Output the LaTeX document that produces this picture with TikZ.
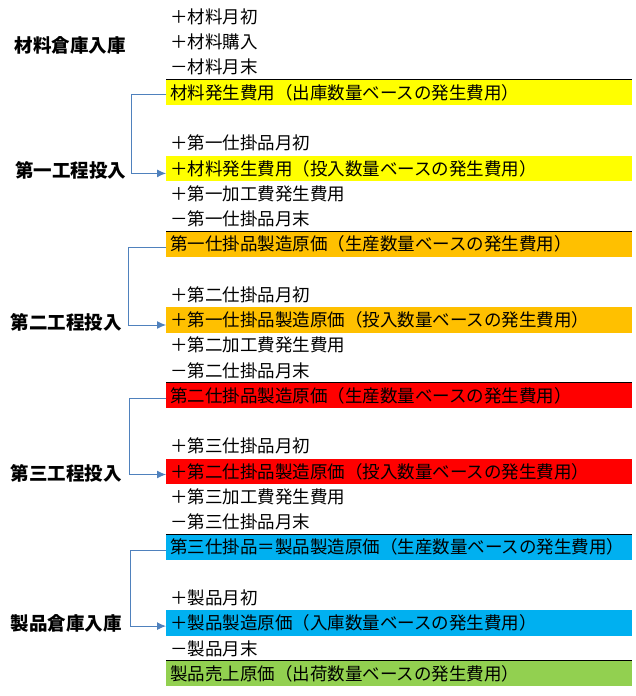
\documentclass[tikz,border=0pt]{standalone}
\usepackage{fontspec}
\setmainfont{Noto Sans CJK JP}
\usetikzlibrary{arrows.meta}

\definecolor{linkblue}{RGB}{79,129,189}
\definecolor{cyellow}{RGB}{255,255,0}
\definecolor{corange}{RGB}{255,192,0}
\definecolor{cred}{RGB}{255,0,0}
\definecolor{cblue}{RGB}{0,176,240}
\definecolor{cgreen}{RGB}{146,208,80}

\begin{document}
\begin{tikzpicture}[x=1pt,y=-1pt,
  every node/.style={font=\fontsize{17.5}{20}\selectfont,inner xsep=4pt,inner ysep=0pt,minimum height=25.26pt,anchor=west},
  cell/.style={fill=#1,text width=458pt,align=left},
  stage/.style={font=\fontsize{18.5}{21}\selectfont\bfseries,anchor=center},
  rule/.style={draw=black,line width=1.2pt},
  link/.style={draw=linkblue,line width=1pt,-{Latex[length=9pt,width=8pt]}}]
\useasboundingbox (0,0) rectangle (636,696);
% materials
\node (lmat) [stage] at (70,45) {材料倉庫入庫};
\node (mbeg) at (166,16.8) {＋材料月初};
\node (mbuy) at (166,42.1) {＋材料購入};
\node (mend) at (166,67.3) {－材料月末};
\node (mout) [cell=cyellow] at (166,92.6) {材料発生費用（出庫数量ベースの発生費用）};
% first process
\node (lw1) [stage] at (71,170) {第一工程投入};
\node (w1beg) at (166,143.1) {＋第一仕掛品月初};
\node (w1in) [cell=cyellow] at (166,168.4) {＋材料発生費用（投入数量ベースの発生費用）};
\node (w1proc) at (166,193.6) {＋第一加工費発生費用};
\node (w1end) at (166,218.9) {－第一仕掛品月末};
\node (w1out) [cell=corange] at (166,244.2) {第一仕掛品製造原価（生産数量ベースの発生費用）};
% second process
\node (lw2) [stage] at (66,322) {第二工程投入};
\node (w2beg) at (166,294.7) {＋第二仕掛品月初};
\node (w2in) [cell=corange] at (166,320.0) {＋第一仕掛品製造原価（投入数量ベースの発生費用）};
\node (w2proc) at (166,345.2) {＋第二加工費発生費用};
\node (w2end) at (166,370.5) {－第二仕掛品月末};
\node (w2out) [cell=cred] at (166,395.7) {第二仕掛品製造原価（生産数量ベースの発生費用）};
% third process
\node (lw3) [stage] at (66,473) {第三工程投入};
\node (w3beg) at (166,446.3) {＋第三仕掛品月初};
\node (w3in) [cell=cred] at (166,471.5) {＋第二仕掛品製造原価（投入数量ベースの発生費用）};
\node (w3proc) at (166,496.8) {＋第三加工費発生費用};
\node (w3end) at (166,522.1) {－第三仕掛品月末};
\node (w3out) [cell=cblue] at (166,547.3) {第三仕掛品＝製品製造原価（生産数量ベースの発生費用）};
% products
\node (lprod) [stage] at (66,623) {製品倉庫入庫};
\node (pbeg) at (166,597.8) {＋製品月初};
\node (pin) [cell=cblue] at (166,623.1) {＋製品製造原価（入庫数量ベースの発生費用）};
\node (pend) at (166,648.4) {－製品月末};
\node (pout) [cell=cgreen] at (166,673.6) {製品売上原価（出荷数量ベースの発生費用）};
% totals
\draw[rule] (mout.north west) -- (mout.north east);
\draw[rule] (w1out.north west) -- (w1out.north east);
\draw[rule] (w2out.north west) -- (w2out.north east);
\draw[rule] (w3out.north west) -- (w3out.north east);
\draw[rule] (pout.north west) -- (pout.north east);
% carry over
\draw[link] ([yshift=-2pt]mout.west) -- ++(-35,0) |- ([yshift=-5pt]w1in.west);
\draw[link] ([yshift=-3pt]w1out.west) -- ++(-38,0) |- ([yshift=-5pt]w2in.west);
\draw[link] ([yshift=-3pt]w2out.west) -- ++(-37,0) |- ([yshift=-3pt]w3in.west);
\draw[link] ([yshift=-3pt]w3out.west) -- ++(-36,0) |- ([yshift=-3pt]pin.west);
\end{tikzpicture}
\end{document}
